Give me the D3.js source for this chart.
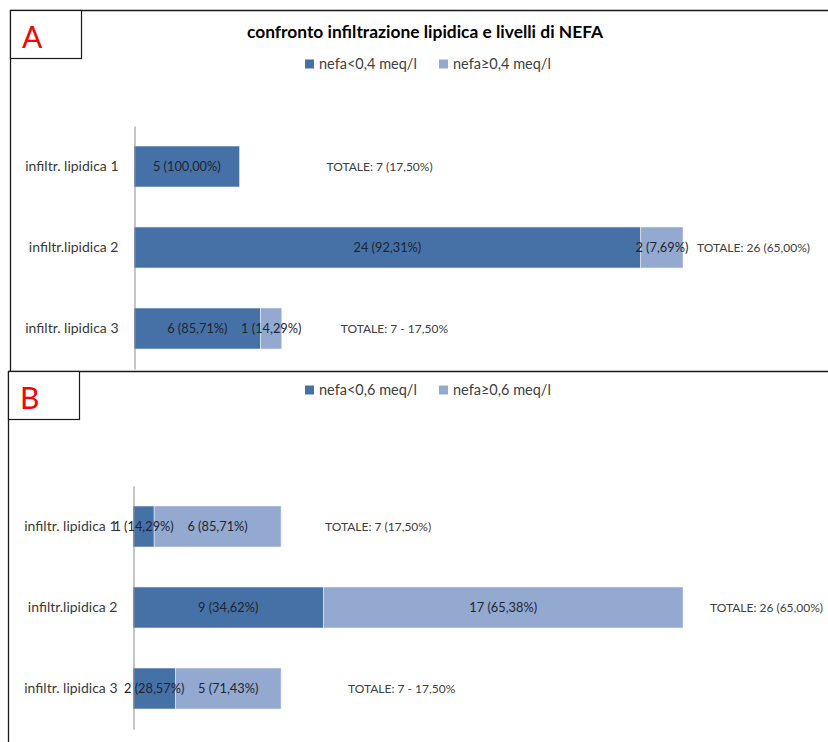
<!DOCTYPE html>
<html>
<head>
<meta charset="utf-8">
<script src="https://cdn.jsdelivr.net/npm/d3@7"></script>
<style>
  html, body { margin: 0; padding: 0; background: #ffffff; }
  svg { display: block; font-family: Lato, "Open Sans", sans-serif; }
</style>
</head>
<body>
<svg id="chart" width="828" height="742"></svg>
<script>
// Categories shared by both panels
const categories = ["infiltr. lipidica 1", "infiltr.lipidica 2", "infiltr. lipidica 3"];

// Panel A: NEFA threshold 0,4 meq/l
const seriesNamesA = ["nefa<0,4 meq/l", "nefa≥0,4 meq/l"];
const lowA = [5, 24, 6];
const highA = [0, 2, 1];
const lowLabelsA = ["5 (100,00%)", "24 (92,31%)", "6 (85,71%)"];
const highLabelsA = ["", "2 (7,69%)", "1 (14,29%)"];
const totalLabelsA = ["TOTALE: 7 (17,50%)", "TOTALE: 26 (65,00%)", "TOTALE: 7 - 17,50%"];

// Panel B: NEFA threshold 0,6 meq/l
const seriesNamesB = ["nefa<0,6 meq/l", "nefa≥0,6 meq/l"];
const lowB = [1, 9, 2];
const highB = [6, 17, 5];
const lowLabelsB = ["1 (14,29%)", "9 (34,62%)", "2 (28,57%)"];
const highLabelsB = ["6 (85,71%)", "17 (65,38%)", "5 (71,43%)"];
const totalLabelsB = ["TOTALE: 7 (17,50%)", "TOTALE: 26 (65,00%)", "TOTALE: 7 - 17,50%"];

const title = "confronto infiltrazione lipidica e livelli di NEFA";

// Styling / layout
const colors = ["#4671a6", "#94a9d0"];
const totalNudgeA = [87, 14, 59];
const totalNudgeB = [44, 27, 67];

const svg = d3.select("#chart");

function drawPanel(cfg) {
  const g = svg.append("g");

  // frame lines
  g.append("line").attr("x1", cfg.fx).attr("x2", 828).attr("y1", cfg.fy + 0.5).attr("y2", cfg.fy + 0.5)
    .attr("stroke", "#1a1a1a").attr("stroke-width", 1.3);
  g.append("line").attr("x1", cfg.fx + 0.5).attr("x2", cfg.fx + 0.5).attr("y1", cfg.fy).attr("y2", cfg.fBottom)
    .attr("stroke", "#1a1a1a").attr("stroke-width", 1.3);

  // panel letter box
  g.append("rect").attr("x", cfg.fx + 0.5).attr("y", cfg.fy + 0.5).attr("width", 71).attr("height", 48)
    .attr("fill", "#fff").attr("stroke", "#1a1a1a").attr("stroke-width", 1.2);
  g.append("text").attr("x", cfg.fx + 12).attr("y", cfg.fy + 38)
    .attr("font-size", 30).attr("fill", "#ff0000").text(cfg.letter);

  if (cfg.title) {
    g.append("text").attr("x", 425).attr("y", cfg.fy + 28).attr("text-anchor", "middle")
      .attr("font-size", 17.4).attr("font-weight", "bold").attr("fill", "#000").text(cfg.title);
  }

  // legend
  const leg = g.append("g").attr("transform", `translate(0,${cfg.legendY})`);
  const legX = [305, 439];
  cfg.names.forEach((name, i) => {
    leg.append("rect").attr("x", legX[i]).attr("y", -4.5).attr("width", 9).attr("height", 9).attr("fill", colors[i]);
    leg.append("text").attr("x", legX[i] + 14).attr("y", 0).attr("dy", "0.35em")
      .attr("font-size", 14.5).attr("fill", "#404040").text(name);
  });

  // scales
  const totals = cfg.low.map((v, i) => v + cfg.high[i]);
  const x = d3.scaleLinear().domain([0, d3.max(totals)]).range([cfg.axisX, 683]);
  const y = d3.scaleBand().domain(categories).range([cfg.bandTop, cfg.bandTop + 243])
    .paddingInner(40 / 81).paddingOuter(20 / 81);

  const rows = categories.map((c, i) => ({
    cat: c, low: cfg.low[i], high: cfg.high[i],
    lowLabel: cfg.lowLabels[i], highLabel: cfg.highLabels[i],
    totalLabel: cfg.totalLabels[i], nudge: cfg.nudge[i]
  }));

  // stacked segments
  const segs = [];
  rows.forEach(r => {
    segs.push({ cat: r.cat, x0: 0, x1: r.low, k: 0, label: r.lowLabel });
    segs.push({ cat: r.cat, x0: r.low, x1: r.low + r.high, k: 1, label: r.highLabel });
  });
  const shown = segs.filter(s => s.x1 > s.x0);

  g.append("g").selectAll("rect").data(shown).join("rect")
    .attr("x", d => x(d.x0)).attr("y", d => y(d.cat))
    .attr("width", d => x(d.x1) - x(d.x0)).attr("height", y.bandwidth())
    .attr("fill", d => colors[d.k])
    .attr("stroke", "#e8eef6").attr("stroke-width", 0.6);

  // category axis (line only, labels on the left)
  const axis = d3.axisLeft(y).tickSize(0).tickPadding(16);
  const ag = g.append("g").attr("transform", `translate(${cfg.axisX + 0.5},0)`).call(axis);
  ag.select(".domain").attr("stroke", "#8c8c8c").attr("stroke-width", 1);
  ag.selectAll("text").attr("font-size", 14).attr("fill", "#3a3a3a")
    .attr("font-family", "Lato, 'Open Sans', sans-serif");

  // segment labels
  g.append("g").selectAll("text").data(shown.filter(d => d.label)).join("text")
    .attr("x", d => (x(d.x0) + x(d.x1)) / 2).attr("y", d => y(d.cat) + y.bandwidth() / 2)
    .attr("dy", "0.35em").attr("text-anchor", "middle")
    .attr("font-size", 12.8).attr("fill", "#1e2530").text(d => d.label);

  // total labels
  g.append("g").selectAll("text").data(rows).join("text")
    .attr("x", d => x(d.low + d.high) + d.nudge).attr("y", d => y(d.cat) + y.bandwidth() / 2)
    .attr("dy", "0.35em").attr("font-size", 12).attr("fill", "#404040").text(d => d.totalLabel);
}

drawPanel({
  letter: "A", fx: 10, fy: 10, fBottom: 372, title: title, legendY: 64,
  names: seriesNamesA, low: lowA, high: highA,
  lowLabels: lowLabelsA, highLabels: highLabelsA, totalLabels: totalLabelsA,
  nudge: totalNudgeA, axisX: 134, bandTop: 126
});

drawPanel({
  letter: "B", fx: 8, fy: 371, fBottom: 742, title: null, legendY: 390,
  names: seriesNamesB, low: lowB, high: highB,
  lowLabels: lowLabelsB, highLabels: highLabelsB, totalLabels: totalLabelsB,
  nudge: totalNudgeB, axisX: 133, bandTop: 486
});
</script>
</body>
</html>
